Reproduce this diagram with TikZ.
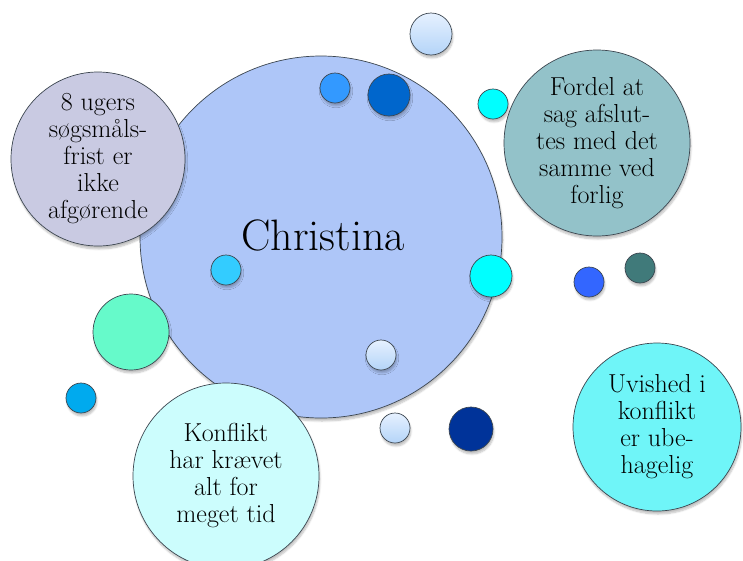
\documentclass[tikz,border=0pt]{standalone}
\usepackage{fontspec}
\usepackage{tikz}
\usetikzlibrary{shadows.blur}
\definecolor{mainblue}{HTML}{AEC6F8}
\definecolor{lavender}{HTML}{C9CAE2}
\definecolor{fordelteal}{HTML}{93C2C9}
\definecolor{uvcyan}{HTML}{6FF5F8}
\definecolor{konfcyan}{HTML}{CCFDFD}
\definecolor{mint}{HTML}{66FACA}
\definecolor{skyblue}{HTML}{3399FF}
\definecolor{midblue}{HTML}{0066CC}
\definecolor{aqua}{HTML}{00FFFF}
\definecolor{lightsky}{HTML}{33CCFF}
\definecolor{royal}{HTML}{3366FF}
\definecolor{darkteal}{HTML}{407A7A}
\definecolor{oceanblue}{HTML}{00AAEE}
\definecolor{navy}{HTML}{003399}
\definecolor{palefrom}{HTML}{E6F1FF}
\definecolor{paleto}{HTML}{B4D4F8}
\definecolor{rim}{HTML}{3C4650}
\newcommand{\bubblefont}{\fontsize{26}{27}\selectfont}

\begin{document}
\begin{tikzpicture}[
  x=1pt, y=-1pt,
  every node/.style={text=black},
  bubble/.style 2 args={circle, draw=rim, line width=0.7pt, fill=#1,
              minimum size=#2, inner sep=0pt, align=center, font=\bubblefont,
              blur shadow={shadow xshift=1pt, shadow yshift=-3pt, shadow blur steps=6, shadow opacity=25}},
  dot/.style 2 args={bubble={#1}{#2}},
  palebox/.style={bubble={palefrom}{#1}, top color=palefrom, bottom color=paleto},
]
  \useasboundingbox (0,0) rectangle (743,560);

  % big centre circle
  \node[bubble={mainblue}{362pt}] (christina) at (321,237) {};
  \node[font=\fontsize{44}{48}\selectfont] (name) at (323,235) {Christina};

  % small dots
  \node[palebox=42pt] (d1) at (431,34) {};
  \node[dot={skyblue}{30pt}] (d2) at (335,88) {};
  \node[dot={midblue}{42pt}] (d3) at (389,95) {};
  \node[dot={aqua}{30pt}] (d4) at (493,104) {};
  \node[dot={lightsky}{30pt}] (d5) at (226,270) {};
  \node[dot={aqua}{42pt}] (d6) at (491,276) {};
  \node[dot={royal}{30pt}] (d7) at (589,282) {};
  \node[dot={darkteal}{30pt}] (d8) at (640,268) {};
  \node[dot={mint}{76pt}] (d9) at (131,332) {};
  \node[dot={oceanblue}{30pt}] (d10) at (81,398) {};
  \node[palebox=30pt] (d11) at (381,355) {};
  \node[palebox=30pt] (d12) at (395,428) {};
  \node[dot={navy}{44pt}] (d13) at (471,429) {};

  % text bubbles
  \node[bubble={lavender}{174pt}] (frist) at (98,159)
    {8 ugers\\søgsmåls-\\frist er\\ikke\\afgørende};
  \node[bubble={fordelteal}{186pt}] (fordel) at (597,143)
    {Fordel at\\sag afslut-\\tes med det\\samme ved\\forlig};
  \node[bubble={uvcyan}{168pt}] (uvished) at (657,427)
    {Uvished i\\konflikt\\er ube-\\hagelig};
  \node[bubble={konfcyan}{186pt}] (konflikt) at (226,476)
    {Konflikt\\har krævet\\alt for\\meget tid};
\end{tikzpicture}
\end{document}
